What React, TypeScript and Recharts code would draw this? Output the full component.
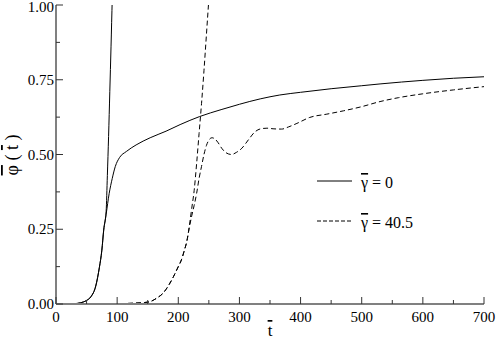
import { LineChart, Line, XAxis, YAxis } from "recharts";

// gamma = 0 : the steep branch and the saturating branch (solid)
const steep0T = [0, 20, 30, 40, 50, 57, 65, 71, 75, 78, 82, 84, 86, 88, 90, 92, 94];
const steep0Phi = [0, 0, 0.001, 0.004, 0.012, 0.024, 0.06, 0.123, 0.18, 0.247, 0.31, 0.43, 0.56, 0.71, 0.86, 1.02, 1.16];

const sat0T = [0, 20, 30, 40, 50, 57, 65, 71, 75, 78, 82, 87, 92, 97, 104, 115, 131, 154, 180, 203, 235, 270, 300, 334, 366, 400, 450, 500, 530, 600, 650, 700];
const sat0Phi = [0, 0, 0.001, 0.004, 0.012, 0.024, 0.06, 0.123, 0.18, 0.247, 0.3, 0.37, 0.42, 0.46, 0.49, 0.51, 0.532, 0.556, 0.578, 0.6, 0.627, 0.65, 0.668, 0.686, 0.699, 0.708, 0.72, 0.73, 0.736, 0.748, 0.755, 0.76];

// gamma = 40.5 : steep branch and oscillating branch (dashed)
const steep40T = [0, 60, 90, 110, 130, 145, 154, 165, 175, 185, 192, 200, 205, 210, 214, 218, 222, 226, 230, 234, 238, 242, 246, 249, 252];
const steep40Phi = [0, 0, 0.0005, 0.0015, 0.003, 0.005, 0.008, 0.02, 0.036, 0.065, 0.091, 0.125, 0.147, 0.18, 0.21, 0.26, 0.32, 0.38, 0.47, 0.57, 0.67, 0.78, 0.9, 0.99, 1.08];

const osc40T = [0, 60, 90, 110, 130, 145, 154, 165, 175, 185, 192, 200, 205, 210, 214, 218, 222, 226, 230, 234, 238, 242, 246, 250, 255, 260, 265, 271, 278, 287, 295, 304, 315, 325, 335, 345, 355, 369, 380, 394, 415, 443, 470, 500, 530, 560, 600, 650, 700];
const osc40Phi = [0, 0, 0.0005, 0.0015, 0.003, 0.005, 0.008, 0.02, 0.036, 0.065, 0.091, 0.125, 0.147, 0.18, 0.21, 0.255, 0.295, 0.33, 0.37, 0.42, 0.46, 0.5, 0.53, 0.548, 0.556, 0.552, 0.54, 0.521, 0.506, 0.5, 0.507, 0.521, 0.55, 0.575, 0.586, 0.588, 0.586, 0.585, 0.592, 0.604, 0.624, 0.635, 0.646, 0.66, 0.677, 0.69, 0.703, 0.716, 0.727];

const tTicks = [0, 50, 100, 150, 200, 250, 300, 350, 400, 450, 500, 550, 600, 650, 700];
const phiTicks = [0, 0.125, 0.25, 0.375, 0.5, 0.625, 0.75, 0.875, 1];

const zip = (ts: number[], ps: number[]) => ts.map((t, i) => ({ t, phi: ps[i] }));

const FONT = '"Times New Roman", "Liberation Serif", "DejaVu Serif", serif';
const txt = { fontFamily: FONT };
const TICK = "#333";
const AXIS = "#808080";

const isMajorT = (v: number) => v % 100 === 0;
const isMajorPhi = (v: number) => Math.abs(v * 4 - Math.round(v * 4)) < 1e-6;

function BottomTick({ x, y, payload }: any) {
  const major = isMajorT(payload.value);
  return (
    <g>
      <line x1={x} x2={x} y1={y} y2={y - (major ? 7 : 4)} stroke={TICK} />
      {major && (
        <text x={x} y={y + 18} textAnchor="middle" fontSize={15} style={txt} fill="#000">
          {payload.value}
        </text>
      )}
    </g>
  );
}

function TopTick({ x, y, payload }: any) {
  const major = isMajorT(payload.value);
  return <line x1={x} x2={x} y1={y} y2={y + (major ? 7 : 4)} stroke={TICK} />;
}

function LeftTick({ x, y, payload }: any) {
  const major = isMajorPhi(payload.value);
  return (
    <g>
      <line x1={x} x2={x + (major ? 7 : 4)} y1={y} y2={y} stroke={TICK} />
      {major && (
        <text x={x - 2} y={Math.max(y + 5, 12)} textAnchor="end" fontSize={15} style={txt} fill="#000">
          {payload.value.toFixed(2)}
        </text>
      )}
    </g>
  );
}

function RightTick({ x, y, payload }: any) {
  const major = isMajorPhi(payload.value);
  return <line x1={x} x2={x - (major ? 7 : 4)} y1={y} y2={y} stroke={TICK} />;
}

const bar = { textDecoration: "overline" };

export default function App() {
  return (
    <div style={{ position: "absolute", left: 0, top: 0, width: 496, height: 340, background: "#fff", fontFamily: FONT }}>
      <LineChart width={496} height={340} margin={{ top: 5, right: 12, bottom: 0, left: 0 }} style={txt}>
        <XAxis
          dataKey="t"
          type="number"
          domain={[0, 700]}
          ticks={tTicks}
          interval={0}
          height={36}
          tickSize={0}
          tickMargin={0}
          tick={<BottomTick />}
          axisLine={{ stroke: AXIS, strokeWidth: 2 }}
          allowDataOverflow
        />
        <XAxis
          xAxisId="top"
          dataKey="t"
          type="number"
          orientation="top"
          domain={[0, 700]}
          ticks={tTicks}
          interval={0}
          height={0}
          tickSize={0}
          tickMargin={0}
          tick={<TopTick />}
          axisLine={{ stroke: AXIS, strokeWidth: 2 }}
          allowDataOverflow
        />
        <YAxis
          type="number"
          domain={[0, 1]}
          ticks={phiTicks}
          interval={0}
          width={56}
          tickSize={0}
          tickMargin={0}
          tick={<LeftTick />}
          axisLine={{ stroke: AXIS, strokeWidth: 2 }}
          allowDataOverflow
        />
        <YAxis
          yAxisId="right"
          type="number"
          orientation="right"
          domain={[0, 1]}
          ticks={phiTicks}
          interval={0}
          width={0}
          tickSize={0}
          tickMargin={0}
          tick={<RightTick />}
          axisLine={{ stroke: AXIS, strokeWidth: 2 }}
          allowDataOverflow
        />
        <Line data={zip(steep0T, steep0Phi)} dataKey="phi" type="monotone" stroke="#000" strokeWidth={1} dot={false} isAnimationActive={false} />
        <Line data={zip(sat0T, sat0Phi)} dataKey="phi" type="monotone" stroke="#000" strokeWidth={1} dot={false} isAnimationActive={false} />
        <Line data={zip(steep40T, steep40Phi)} dataKey="phi" type="monotone" stroke="#000" strokeWidth={1} strokeDasharray="5 3" dot={false} isAnimationActive={false} />
        <Line data={zip(osc40T, osc40Phi)} dataKey="phi" type="monotone" stroke="#000" strokeWidth={1} strokeDasharray="5 3" dot={false} isAnimationActive={false} />
      </LineChart>
      <svg width={496} height={340} style={{ position: "absolute", left: 0, top: 0, pointerEvents: "none" }}>
        <line x1={317} x2={352} y1={181} y2={181} stroke="#000" />
        <text x={361} y={188} fontSize={16} style={txt} fill="#000">
          <tspan style={bar}>γ</tspan>
          {" = 0"}
        </text>
        <line x1={317} x2={352} y1={221} y2={221} stroke="#000" strokeDasharray="4 2" />
        <text x={361} y={228} fontSize={16} style={txt} fill="#000">
          <tspan style={bar}>γ</tspan>
          {" = 40.5"}
        </text>
        <text x={270} y={336} fontSize={17} textAnchor="middle" style={txt} fill="#000">
          <tspan style={bar}>t</tspan>
        </text>
        <text x={18} y={155} fontSize={18} textAnchor="middle" transform="rotate(-90 18 155)" style={txt} fill="#000">
          <tspan style={bar}>φ</tspan>
          {" ( "}
          <tspan style={bar}>t</tspan>
          {" )"}
        </text>
      </svg>
    </div>
  );
}
